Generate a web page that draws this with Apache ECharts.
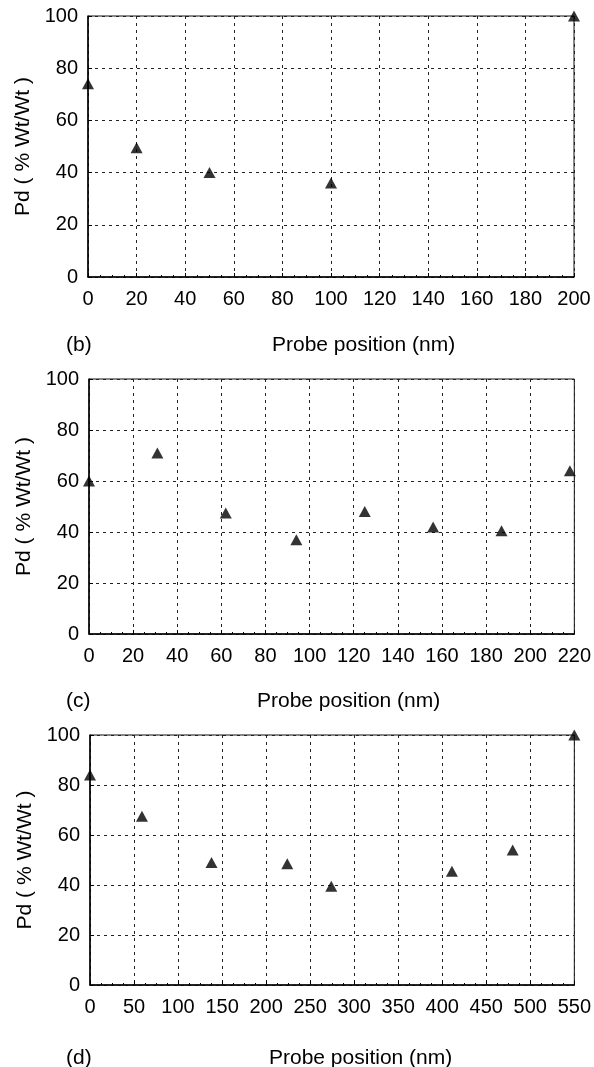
<!DOCTYPE html>
<html>
<head>
<meta charset="utf-8">
<script src="https://cdn.jsdelivr.net/npm/echarts@6/dist/echarts.min.js"></script>
<style>
  html, body { margin: 0; padding: 0; background: #fff; }
  #chart { width: 594px; height: 1067px; }
</style>
</head>
<body>
<div id="chart"></div>
<script>
// panel (b)
var posB = [0, 20, 50, 100, 200];
var pdB = [74, 49.5, 40, 36, 100];
// panel (c)
var posC = [0, 31, 62, 94, 125, 156, 187, 218];
var pdC = [60, 71, 47.5, 37, 48, 42, 40.5, 64];
// panel (d)
var posD = [0, 59, 138, 224, 274, 411, 480, 550];
var pdD = [84, 67.5, 49, 48.5, 39.5, 45.5, 54, 100];

var xMax = [200, 220, 550];
var xStep = [20, 20, 50];
var yTicks = [0, 20, 40, 60, 80, 100];
var panelTags = ["(b)", "(c)", "(d)"];
var xTitle = "Probe position (nm)";
var yTitle = "Pd ( % Wt/Wt )";

var font = "Liberation Sans, Arial, sans-serif";

function pairs(xs, ys) {
  var out = [];
  for (var i = 0; i < xs.length; i++) out.push([xs[i], ys[i]]);
  return out;
}

var myChart = echarts.init(document.getElementById("chart"));

var grids = [
  { left: 88, top: 16, width: 486, height: 261 },
  { left: 89, top: 379, width: 487, height: 255 },
  { left: 90, top: 735, width: 487, height: 250 }
];
// caption rows under each panel
var captionTop = [330, 686, 1043];
var xTitleLeft = [267, 252, 264];

var gridLine = { show: true, lineStyle: { color: "#222", type: [3, 4], width: 1 } };

var option = {
  animation: false,
  backgroundColor: "#fff",
  textStyle: { fontFamily: font, color: "#000" },
  title: [],
  grid: grids.map(function (g) {
    return Object.assign({ show: true, borderColor: "#111", borderWidth: 1 }, g);
  }),
  xAxis: [],
  yAxis: [],
  series: []
};

for (var k = 0; k < 3; k++) {
  option.xAxis.push({
    type: "value",
    gridIndex: k,
    min: 0,
    max: xMax[k],
    interval: xStep[k],
    axisLine: { show: true, onZero: false, lineStyle: { color: "#000", width: 1.5 } },
    axisTick: { show: true, inside: true, length: 4, lineStyle: { color: "#000" } },
    minorTick: { show: true, splitNumber: 4, length: 2, lineStyle: { color: "#000" } },
    splitLine: gridLine,
    axisLabel: { color: "#000", fontSize: 20, fontFamily: font, margin: 12, showMinLabel: true, showMaxLabel: true }
  });
  option.yAxis.push({
    type: "value",
    gridIndex: k,
    min: yTicks[0],
    max: yTicks[yTicks.length - 1],
    interval: yTicks[1] - yTicks[0],
    name: yTitle,
    nameLocation: "middle",
    nameRotate: 90,
    nameGap: 54,
    nameTextStyle: { color: "#000", fontSize: 21, fontFamily: font },
    axisLine: { show: true, lineStyle: { color: "#000", width: 1.5 } },
    axisTick: { show: true, inside: true, length: 4, lineStyle: { color: "#000" } },
    splitLine: gridLine,
    axisLabel: { color: "#000", fontSize: 20, fontFamily: font, margin: 10 }
  });
  option.title.push({
    text: panelTags[k],
    left: 61,
    top: captionTop[k],
    textStyle: { fontSize: 21, fontWeight: "normal", color: "#000", fontFamily: font }
  });
  option.title.push({
    text: xTitle,
    left: xTitleLeft[k],
    top: captionTop[k],
    textStyle: { fontSize: 21, fontWeight: "normal", color: "#000", fontFamily: font }
  });
}

var allData = [pairs(posB, pdB), pairs(posC, pdC), pairs(posD, pdD)];
allData.forEach(function (d, k) {
  option.series.push({
    type: "scatter",
    xAxisIndex: k,
    yAxisIndex: k,
    data: d,
    symbol: "triangle",
    symbolSize: [12, 11],
    itemStyle: { color: "#000" },
    clip: false
  });
});

myChart.setOption(option);
</script>
</body>
</html>
